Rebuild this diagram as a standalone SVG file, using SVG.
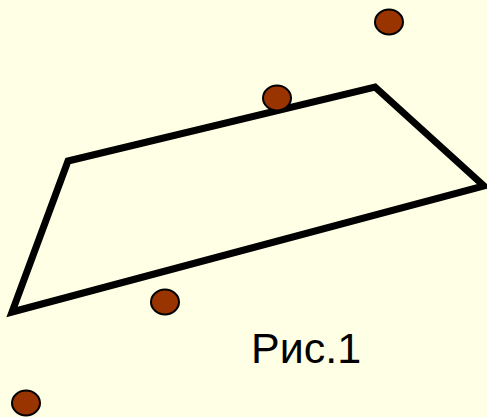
<svg xmlns="http://www.w3.org/2000/svg" width="487" height="417" viewBox="0 0 487 417">
<style>
.pt{fill:#993300;stroke:#000;stroke-width:2}
.shape{fill:none;stroke:#000;stroke-width:7;stroke-linejoin:miter}
.lbl{font-family:"Liberation Sans",Arial,sans-serif;font-size:43px;fill:#000}
</style>
<rect width="487" height="417" fill="#FFFFE5"/>
<g id="connectors">
<polygon class="shape" points="68,161 375,87 484,186 12,312"/>
</g>
<g id="p1"><ellipse class="pt" cx="389" cy="22" rx="14" ry="12.5"/></g>
<g id="p2"><ellipse class="pt" cx="277" cy="98" rx="14" ry="12.5"/></g>
<g id="p3"><ellipse class="pt" cx="165" cy="302" rx="14" ry="12.5"/></g>
<g id="p4"><ellipse class="pt" cx="26" cy="403" rx="14" ry="12.5"/></g>
<g id="caption"><text class="lbl" x="251" y="363">Рис.1</text></g>
</svg>
